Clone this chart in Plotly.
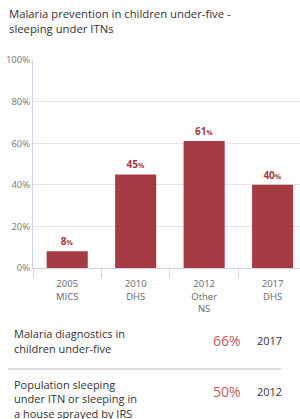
import plotly.graph_objects as go

categories = ["2005<br>MICS", "2010<br>DHS", "2012<br>Other<br>NS", "2017<br>DHS"]
values = [8, 45, 61, 40]
y_ticks = [0, 20, 40, 60, 80, 100]
y_tick_labels = ["0%", "20%", "40%", "60%", "80%", "100%"]

title_lines = ["Malaria prevention in children under-five -", "sleeping under ITNs"]
ind1_lines = ["Malaria diagnostics in", "children under-five"]
ind1_value = "66%"
ind1_year = "2017"
ind2_lines = ["Population sleeping", "under ITN or sleeping in", "a house sprayed by IRS"]
ind2_value = "50%"
ind2_year = "2012"

W, H = 300, 419
L, R, T, B = 33, 0, 60, 151
PW, PH = W - L - R, H - T - B

def px(x):
    return (x - L) / PW

def py(y):
    return (H - B - y) / PH

BAR = "#a63a42"
FONT = "Open Sans"

fig = go.Figure()
fig.add_trace(go.Bar(
    x=categories, y=values, width=0.6, marker=dict(color=BAR, line=dict(width=0)),
    text=[f"<b>{v}</b><span style='font-size:7px'><b>%</b></span>" for v in values],
    textposition="outside", textfont=dict(color=BAR, size=10, family=FONT),
    cliponaxis=False, hoverinfo="skip",
))

ann = []
def txt(s, x, y, size, color, xanchor="left", yanchor="middle"):
    ann.append(dict(text=s, x=px(x), y=py(y), xref="paper", yref="paper",
                    xanchor=xanchor, yanchor=yanchor, showarrow=False,
                    font=dict(family=FONT, size=size, color=color)))

txt(title_lines[0], 7, 14, 11.3, "#333333")
txt(title_lines[1], 7, 28, 11.3, "#333333")
for i, s in enumerate(ind1_lines):
    txt(s, 12, 333 + 15 * i, 11, "#333333")
txt(ind1_value, 243, 340, 14, "#c25c63", xanchor="right")
txt(ind1_year, 255, 340, 11, "#333333")
for i, s in enumerate(ind2_lines):
    txt(s, 12, 384 + 14.5 * i, 11, "#333333")
txt(ind2_value, 243, 391, 14, "#c25c63", xanchor="right")
txt(ind2_year, 255, 391, 11, "#333333")

fig.update_layout(
    template="none",
    width=W, height=H, margin=dict(l=L, r=R, t=T, b=B, pad=0),
    paper_bgcolor="white", plot_bgcolor="white", showlegend=False,
    annotations=ann, bargap=0.4,
    shapes=[dict(type="line", xref="paper", yref="paper", x0=px(8), x1=px(281),
                 y0=py(369), y1=py(369), line=dict(color="#dddddd", width=2))],
    font=dict(family=FONT),
)
fig.update_xaxes(
    range=[-0.5, 3.4], showline=True, linecolor="#ccd6eb", linewidth=1, automargin=False,
    ticks="outside", tickson="boundaries", ticklen=9, tickcolor="#ccd6eb", tickwidth=1,
    ticklabelstandoff=7,
    tickfont=dict(size=9.5, color="#666666", family=FONT), showgrid=False, fixedrange=True,
)
fig.update_yaxes(
    range=[0, 100], tickvals=y_ticks, ticktext=y_tick_labels, showline=True,
    linecolor="#ccd6eb", automargin=False, ticks="",
    linewidth=1, showgrid=True, gridcolor="#e6e6e6", gridwidth=1, zeroline=False,
    tickfont=dict(size=9.5, color="#777777", family=FONT), fixedrange=True,
)

fig.write_html(
    "out.html",
    config={"displayModeBar": False},
    post_script="document.body.style.margin='0';document.body.style.overflow='hidden';",
)
